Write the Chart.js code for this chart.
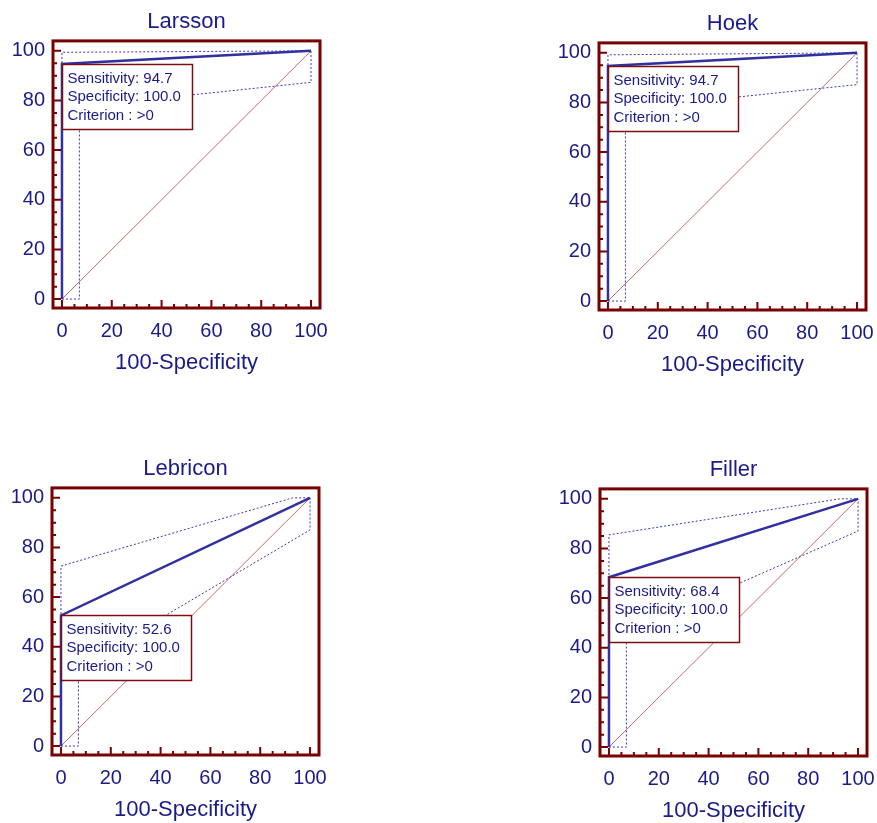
<!DOCTYPE html>
<html>
<head>
<meta charset="utf-8">
<title>ROC curves</title>
<script src="https://cdn.jsdelivr.net/npm/chart.js@4.4.0/dist/chart.umd.min.js"></script>
<style>
  body { margin: 0; background: #fff; width: 877px; height: 823px; position: relative; overflow: hidden; }
  canvas.panel { position: absolute; }
</style>
</head>
<body>
<canvas id="roc0" class="panel" width="374" height="380" style="left:0px;top:0px"></canvas>
<canvas id="roc1" class="panel" width="374" height="380" style="left:546px;top:2px"></canvas>
<canvas id="roc2" class="panel" width="374" height="380" style="left:-1px;top:447px"></canvas>
<canvas id="roc3" class="panel" width="374" height="380" style="left:547px;top:448px"></canvas>
<script>
// ---- data ----
const panelTitles = ['Larsson', 'Hoek', 'Lebricon', 'Filler'];
const sensitivity = [94.7, 94.7, 52.6, 68.4];
const specificity = [100.0, 100.0, 100.0, 100.0];
const criterion = ['>0', '>0', '>0', '>0'];

// ROC curve: (100-Specificity, Sensitivity)
const rocX = [0, 0, 100];
const rocY = [
    [0, 94.7, 100],
    [0, 94.7, 100],
    [0, 52.6, 100],
    [0, 68.4, 100]
];

// 95% confidence bounds (dotted)
const upperX = [
    [0, 0, 100],
    [0, 0, 100],
    [0, 0, 93, 100],
    [0, 0, 92.7, 100]
];
const upperY = [
    [0, 99.4, 100],
    [0, 99.2, 100],
    [0, 72.5, 100, 100],
    [0, 85.5, 100, 100]
];
const lowerX = [0, 7, 7, 100, 100];
const lowerY = [
    [0, 0, 77.5, 87.3, 100],
    [0, 0, 77.5, 87.2, 100],
    [0, 0, 31.8, 87.1, 100],
    [0, 0, 46.0, 87.0, 100]
];

// reference diagonal
const diagX = [0, 100];
const diagY = [0, 100];

// axis ticks
const majorTicks = [0, 20, 40, 60, 80, 100];
const minorTicks = [5, 10, 15, 25, 30, 35, 45, 50, 55, 65, 70, 75, 85, 90, 95];

// ---- styles ----
const fontFamily = "'Liberation Sans', Arial, sans-serif";
const textColor = '#1a1a88';
const frameColor = '#780000';
const rocColor = '#3030a0';
const ciColor = '#3a3ab4';
const diagColor = '#c46a6a';

const toPoints = (xs, ys) => xs.map((x, k) => ({ x, y: ys[k] }));

// frame round the plot area + inward tick marks
const frameAndTicks = {
    id: 'frameAndTicks',
    afterDraw(chart) {
        const { ctx, chartArea: a, scales: { x, y } } = chart;
        ctx.save();
        ctx.strokeStyle = frameColor;
        ctx.lineWidth = 2;
        ctx.beginPath();
        const tick = (v, len) => {
            const px = x.getPixelForValue(v);
            ctx.moveTo(px, a.bottom);
            ctx.lineTo(px, a.bottom - len);
            const py = y.getPixelForValue(v);
            ctx.moveTo(a.left, py);
            ctx.lineTo(a.left + len, py);
        };
        majorTicks.forEach(v => tick(v, 8));
        minorTicks.forEach(v => tick(v, 4));
        ctx.stroke();
        ctx.lineWidth = 3;
        ctx.strokeRect(a.left, a.top, a.right - a.left, a.bottom - a.top);
        ctx.restore();
    }
};

// "Sensitivity / Specificity / Criterion" box anchored at the operating point
function makeInfoBox(i) {
    return {
        id: 'infoBox',
        afterDatasetsDraw(chart) {
            const { ctx, scales: { x, y } } = chart;
            const left = Math.round(x.getPixelForValue(rocX[1])) + 0.5;
            const top = Math.round(y.getPixelForValue(sensitivity[i])) + 0.5;
            const w = 130, h = 65;
            ctx.save();
            ctx.fillStyle = '#fff';
            ctx.fillRect(left, top, w, h);
            ctx.strokeStyle = '#7a1010';
            ctx.lineWidth = 1.5;
            ctx.strokeRect(left, top, w, h);
            ctx.fillStyle = textColor;
            ctx.font = '15px ' + fontFamily;
            ctx.textBaseline = 'middle';
            const lines = [
                'Sensitivity: ' + sensitivity[i].toFixed(1),
                'Specificity: ' + specificity[i].toFixed(1),
                'Criterion : ' + criterion[i]
            ];
            lines.forEach((t, k) => ctx.fillText(t, left + 5, top + 14.5 + k * 18.3));
            ctx.restore();
        }
    };
}

function axisOptions(isX) {
    return {
        type: 'linear',
        min: -3.6,
        max: isX ? 103.6 : 104,
        afterBuildTicks: s => { s.ticks = majorTicks.map(v => ({ value: v })); },
        afterFit: s => { if (isX) s.height = 72; else s.width = 53; },
        grid: { display: false, drawTicks: false },
        border: { display: false },
        ticks: {
            color: textColor,
            font: { family: fontFamily, size: 20 },
            padding: isX ? 11 : 8,
            autoSkip: false,
            maxRotation: 0
        },
        title: isX ? {
            display: true,
            text: '100-Specificity',
            color: textColor,
            font: { family: fontFamily, size: 22 },
            padding: { top: 0, bottom: 4 }
        } : { display: false }
    };
}

panelTitles.forEach((title, i) => {
    const line = (xs, ys, color, width, dash) => ({
        data: toPoints(xs, ys),
        showLine: true,
        borderColor: color,
        borderWidth: width,
        borderDash: dash || [],
        pointRadius: 0,
        fill: false,
        tension: 0
    });
    new Chart(document.getElementById('roc' + i), {
        type: 'scatter',
        data: {
            datasets: [
                line(rocX, rocY[i], rocColor, 2.5),
                line(upperX[i], upperY[i], ciColor, 1, [2, 2]),
                line(lowerX, lowerY[i], ciColor, 1, [2, 2]),
                line(diagX, diagY, diagColor, 1)
            ]
        },
        options: {
            responsive: false,
            animation: false,
            events: [],
            layout: { padding: { left: 0, right: 54, top: 0, bottom: 0 } },
            plugins: {
                legend: { display: false },
                tooltip: { enabled: false },
                title: {
                    display: true,
                    fullSize: false,
                    text: title,
                    color: textColor,
                    font: { family: fontFamily, size: 22, weight: 'normal' },
                    padding: { top: 9, bottom: 5.5 }
                }
            },
            scales: { x: axisOptions(true), y: axisOptions(false) }
        },
        plugins: [makeInfoBox(i), frameAndTicks]
    });
});
</script>
</body>
</html>
